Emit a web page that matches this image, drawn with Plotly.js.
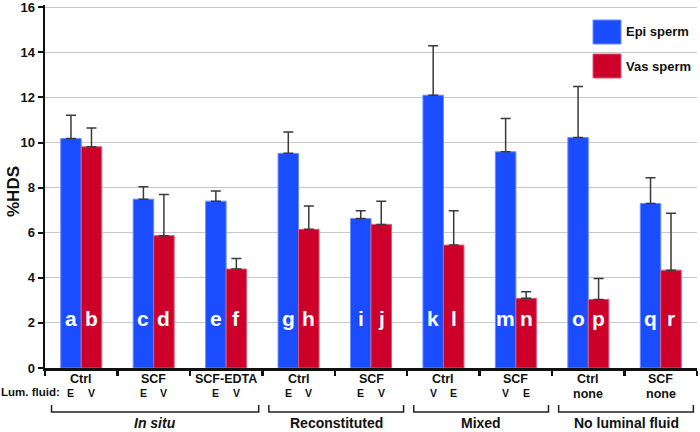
<!DOCTYPE html>
<html>
<head>
<meta charset="utf-8">
<script src="https://cdn.plot.ly/plotly-3.0.1.min.js"></script>
<style>html,body{margin:0;padding:0;background:#fff;}#chart{width:700px;height:432px;}</style>
</head>
<body>
<div id="chart"></div>
<script>
// ---- data ----
const groups = ['Ctrl','SCF','SCF-EDTA','Ctrl','SCF','Ctrl','SCF','Ctrl','SCF'];
const lumEpi = ['E','E','E','E','E','V','V','none','none'];
const lumVas = ['V','V','V','V','V','E','E','none','none'];
const epiValues = [10.18, 7.49, 7.40, 9.52, 6.63, 12.10, 9.59, 10.22, 7.30];
const epiErr    = [1.03, 0.55, 0.45, 0.95, 0.34, 2.19, 1.48, 2.27, 1.14];
const vasValues = [9.81, 5.87, 4.39, 6.15, 6.37, 5.45, 3.09, 3.04, 4.34];
const vasErr    = [0.84, 1.83, 0.47, 1.03, 1.03, 1.52, 0.29, 0.93, 2.52];
const epiLetters = ['a','c','e','g','i','k','m','o','q'];
const vasLetters = ['b','d','f','h','j','l','n','p','r'];
const sections = [
  {label:'In situ', first:0, last:2, italic:true},
  {label:'Reconstituted', first:3, last:4},
  {label:'Mixed', first:5, last:6},
  {label:'No luminal fluid', first:7, last:8}
];
const yTicks = [0,2,4,6,8,10,12,14,16];

// ---- geometry helpers ----
const W = 700, H = 432;
const M = {l:45, r:3, t:5, b:64};
const plotH = H - M.t - M.b;
const py = p => (H - M.b - p) / plotH;   // pixel y -> paper y
const FONT = 'Liberation Sans, Arial, sans-serif';
const xIdx = groups.map((g,i)=>i);
const off = 0.1415;

const BLUE = '#1a4dff', RED = '#cc0029';

const traces = [
  {type:'bar', name:'Epi sperm', x:xIdx, y:epiValues,
   marker:{color:BLUE, line:{color:'#6d8dff', width:1}},
   error_y:{type:'data', symmetric:false, array:epiErr, arrayminus:epiErr.map(()=>0),
            color:'#3a3a3a', thickness:1.5, width:5}},
  {type:'bar', name:'Vas sperm', x:xIdx, y:vasValues,
   marker:{color:RED, line:{color:'#d85a78', width:1}},
   error_y:{type:'data', symmetric:false, array:vasErr, arrayminus:vasErr.map(()=>0),
            color:'#3a3a3a', thickness:1.5, width:5}}
];

const annotations = [];
const shapes = [];
const bold = (s) => '<b>' + s + '</b>';
const txt = (o) => Object.assign({showarrow:false, xanchor:'center', yanchor:'middle', borderpad:0}, o);

// letters inside bars
xIdx.forEach(i => {
  annotations.push(txt({x:i-off, y:2.2, xref:'x', yref:'y', text:bold(epiLetters[i]),
    font:{family:FONT, size:21, color:'#fff'}}));
  annotations.push(txt({x:i+off, y:2.2, xref:'x', yref:'y', text:bold(vasLetters[i]),
    font:{family:FONT, size:21, color:'#fff'}}));
  // group label
  annotations.push(txt({x:i, y:py(378.5), xref:'x', yref:'paper', text:bold(groups[i]),
    font:{family:FONT, size:12.5, color:'#111'}}));
  // luminal fluid row
  if (lumEpi[i] === lumVas[i]) {
    annotations.push(txt({x:i, y:py(394), xref:'x', yref:'paper', text:bold(lumEpi[i]),
      font:{family:FONT, size:12.5, color:'#111'}}));
  } else {
    annotations.push(txt({x:i-off, y:py(393), xref:'x', yref:'paper', text:bold(lumEpi[i]),
      font:{family:FONT, size:10.5, color:'#111'}}));
    annotations.push(txt({x:i+off, y:py(393), xref:'x', yref:'paper', text:bold(lumVas[i]),
      font:{family:FONT, size:10.5, color:'#111'}}));
  }
});
annotations.push(txt({x:0, xref:'paper', xanchor:'left', xshift:-45, y:py(392), yref:'paper',
  text:bold('Lum. fluid:'), font:{family:FONT, size:11.5, color:'#111'}}));

// y-axis title
annotations.push(txt({x:0, xref:'paper', xshift:-32, y:py(192), yref:'paper', textangle:-90,
  text:bold('%HDS'), font:{family:FONT, size:17, color:'#111'}}));

// section brackets
sections.forEach(s => {
  const x0 = s.first - 0.41, x1 = s.last + 0.45;
  shapes.push({type:'path', xref:'x', yref:'paper',
    path:`M ${x0},${py(405)} L ${x0},${py(412)} L ${x1},${py(412)} L ${x1},${py(405)}`,
    line:{color:'#222', width:1.5}});
  annotations.push(txt({x:(x0+x1)/2, y:py(423), xref:'x', yref:'paper',
    text: s.italic ? '<b><i>'+s.label+'</i></b>' : bold(s.label),
    font:{family:FONT, size:14, color:'#111'}}));
});

// legend (drawn)
const pxX = p => (p - M.l) / (W - M.l - M.r);
[[BLUE,'Epi sperm',20,44],[RED,'Vas sperm',54,78]].forEach(([c,t,y0,y1]) => {
  shapes.push({type:'rect', xref:'paper', yref:'paper', x0:pxX(593), x1:pxX(621), y0:py(y1), y1:py(y0),
    fillcolor:c, line:{color:c==BLUE?'#6d8dff':'#d85a78', width:1}});
  annotations.push(txt({x:pxX(625), y:py((y0+y1)/2), xref:'paper', yref:'paper', xanchor:'left',
    text:bold(t), font:{family:FONT, size:13, color:'#111'}}));
});

const layout = {
  width:W, height:H, margin:M,
  paper_bgcolor:'#fff', plot_bgcolor:'#fff',
  barmode:'group', bargap:0.434, bargroupgap:0,
  showlegend:false,
  xaxis:{range:[-0.5,8.5], tickvals:[-0.5,0.5,1.5,2.5,3.5,4.5,5.5,6.5,7.5,8.5],
    showticklabels:false, ticks:'outside', ticklen:5, tickwidth:2.5, tickcolor:'#111',
    showline:true, linewidth:2.5, linecolor:'#111', showgrid:false, zeroline:false, fixedrange:true},
  yaxis:{range:[0,16.1], tickvals:yTicks, ticktext:yTicks.map(v=>bold(v)),
    ticks:'outside', ticklen:5, tickwidth:2, tickcolor:'#111', ticklabeloverflow:'allow',
    showline:true, linewidth:2.5, linecolor:'#111', showgrid:true, gridcolor:'#c8c8c8', gridwidth:1,
    zeroline:false, tickfont:{family:FONT, size:13, color:'#111'}},
  annotations:annotations, shapes:shapes
};

Plotly.newPlot('chart', traces, layout, {displayModeBar:false, staticPlot:true});
</script>
</body>
</html>
